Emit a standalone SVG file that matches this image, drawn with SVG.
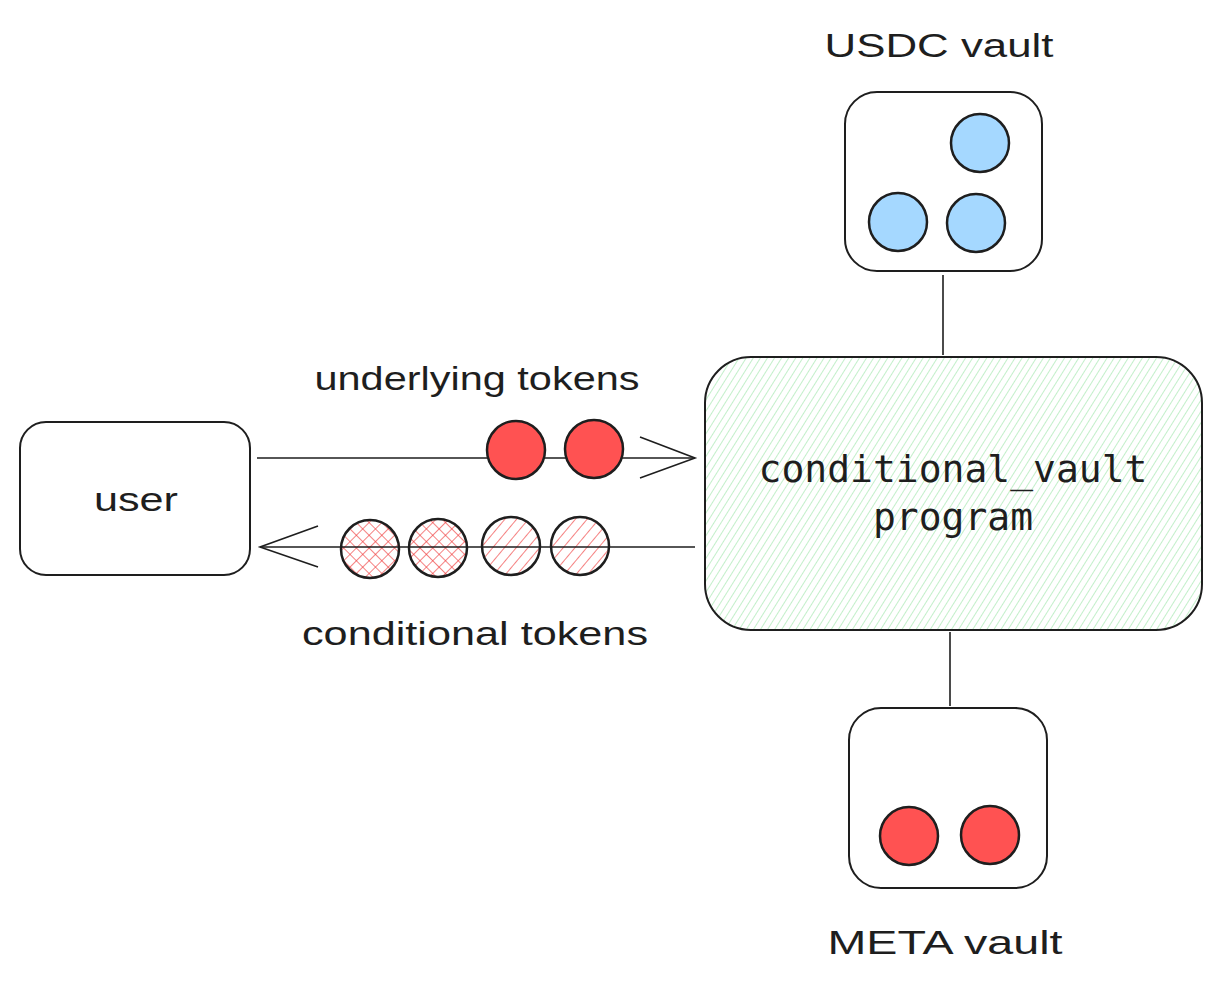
<svg xmlns="http://www.w3.org/2000/svg" width="1222" height="987" viewBox="0 0 1222 987">
<defs>
<pattern id="green" width="6" height="6" patternUnits="userSpaceOnUse" patternTransform="rotate(32)">
<rect width="6" height="6" fill="#ffffff"/>
<line x1="0" y1="0" x2="0" y2="6" stroke="#a9e8b4" stroke-width="1.4"/>
</pattern>
<pattern id="hatch" width="9" height="9" patternUnits="userSpaceOnUse" patternTransform="rotate(40)">
<rect width="9" height="9" fill="#ffffff"/>
<line x1="0" y1="0" x2="0" y2="9" stroke="#f03e3e" stroke-width="1.3"/>
</pattern>
<pattern id="cross" width="9" height="9" patternUnits="userSpaceOnUse" patternTransform="rotate(45)">
<rect width="9" height="9" fill="#ffffff"/>
<line x1="0" y1="0" x2="0" y2="9" stroke="#f03e3e" stroke-width="1.3"/>
<line x1="0" y1="0" x2="9" y2="0" stroke="#f03e3e" stroke-width="1.3"/>
</pattern>
</defs>
<style>
.box{fill:#ffffff;stroke:#1e1e1e;stroke-width:2}
.tok{stroke:#1e1e1e;stroke-width:2.5}
.red{fill:#ff5252}
.blue{fill:#a5d8ff}
.line{stroke:#1e1e1e;stroke-width:1.6;fill:none}
.hand{font-family:"Liberation Sans","DejaVu Sans",sans-serif;font-size:34px;fill:#1e1e1e;text-anchor:middle}
.mono{font-family:"DejaVu Sans Mono","Liberation Mono",monospace;font-size:38px;fill:#1e1e1e;text-anchor:middle}
</style>
<rect width="1222" height="987" fill="#ffffff"/>
<g id="user">
<rect class="box" x="20" y="422" width="230" height="153" rx="26"/>
<text class="hand" x="136" y="511" textLength="84" lengthAdjust="spacingAndGlyphs">user</text>
</g>
<g id="program">
<rect x="705" y="357" width="497" height="273" rx="46" fill="url(#green)" stroke="#1e1e1e" stroke-width="2"/>
<text class="mono" x="953" y="482">conditional_vault</text>
<text class="mono" x="953" y="530">program</text>
</g>
<g id="usdc-vault">
<rect class="box" x="845" y="92" width="197" height="179" rx="32"/>
<circle class="tok blue" cx="980" cy="143" r="29"/>
<circle class="tok blue" cx="898" cy="222" r="29"/>
<circle class="tok blue" cx="976" cy="223" r="29"/>
<text class="hand" x="939" y="57" textLength="229" lengthAdjust="spacingAndGlyphs">USDC vault</text>
</g>
<g id="meta-vault">
<rect class="box" x="849" y="708" width="198" height="180" rx="32"/>
<circle class="tok red" cx="909" cy="836" r="29"/>
<circle class="tok red" cx="990" cy="835" r="29"/>
<text class="hand" x="945" y="954" textLength="235" lengthAdjust="spacingAndGlyphs">META vault</text>
</g>
<g id="conditional-tokens">
<circle class="tok" cx="370" cy="549" r="29" fill="url(#cross)"/>
<circle class="tok" cx="438" cy="548" r="29" fill="url(#cross)"/>
<circle class="tok" cx="511" cy="546" r="29" fill="url(#hatch)"/>
<circle class="tok" cx="580" cy="546" r="29" fill="url(#hatch)"/>
<text class="hand" x="475" y="645" textLength="346" lengthAdjust="spacingAndGlyphs">conditional tokens</text>
</g>
<g id="connectors">
<line class="line" x1="257" y1="458" x2="695" y2="458"/>
<polyline class="line" points="640,437 695,458 640,478"/>
<line class="line" x1="695" y1="547" x2="260" y2="547"/>
<polyline class="line" points="318,526 260,547 318,567"/>
<line class="line" x1="943" y1="275" x2="943" y2="355"/>
<line class="line" x1="950" y1="632" x2="950" y2="706"/>
</g>
<g id="underlying-tokens">
<circle class="tok red" cx="516" cy="450" r="29"/>
<circle class="tok red" cx="594" cy="449" r="29"/>
<text class="hand" x="477" y="390" textLength="325" lengthAdjust="spacingAndGlyphs">underlying tokens</text>
</g>
</svg>
